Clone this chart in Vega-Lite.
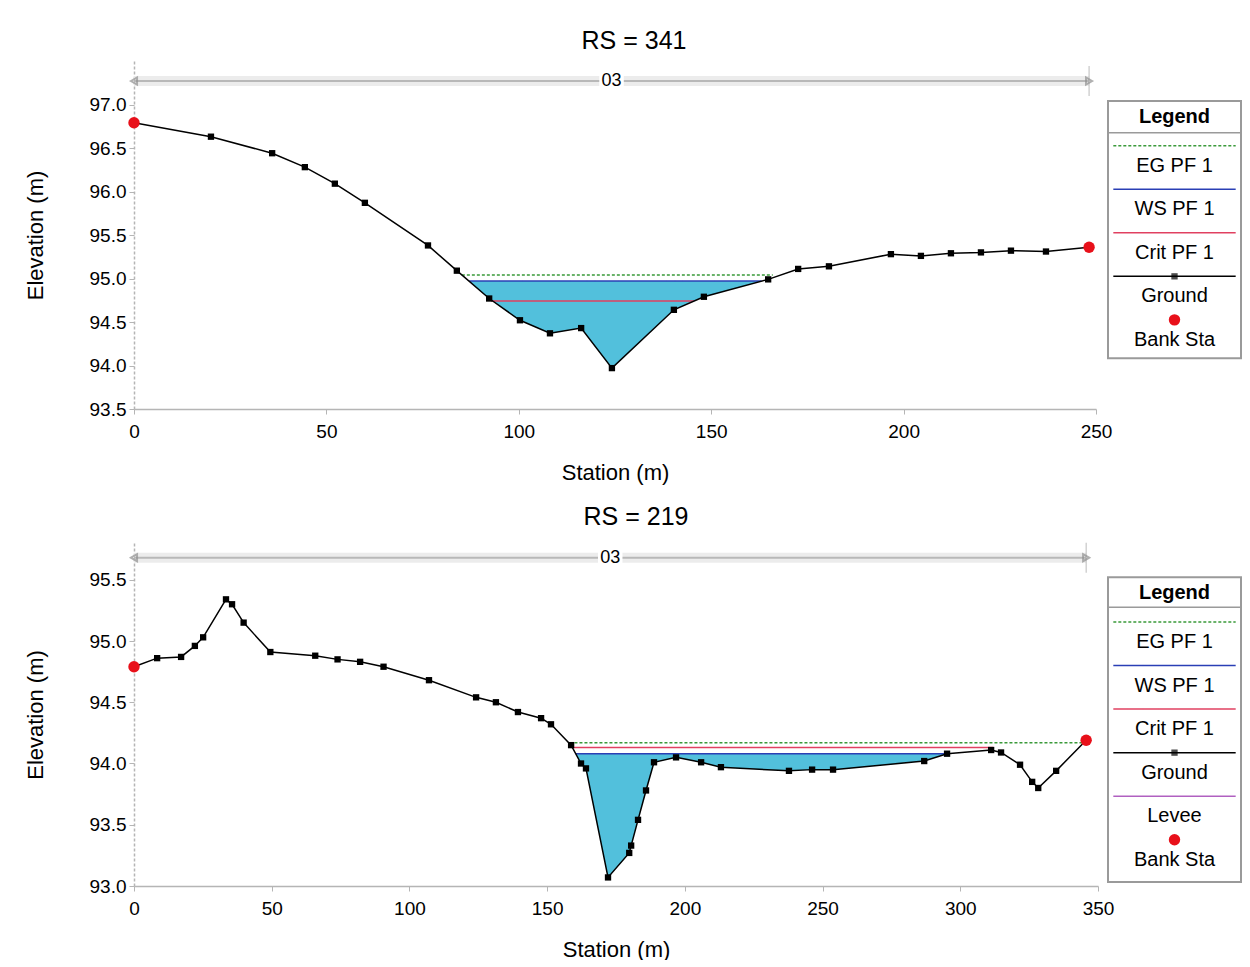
{
  "background": "white",
  "padding": {"left": 24, "top": 29, "right": 6, "bottom": 0},
  "config": {
    "font": "Liberation Sans",
    "view": {"stroke": null},
    "axis": {
      "labelFont": "Liberation Sans",
      "titleFont": "Liberation Sans",
      "labelFontSize": 19,
      "titleFontSize": 22,
      "titleFontWeight": "normal",
      "labelColor": "#000000",
      "titleColor": "#000000",
      "domainColor": "#b5b5b5",
      "tickColor": "#b5b5b5",
      "domainWidth": 1.5,
      "grid": false,
      "tickSize": 5
    },
    "axisX": {"labelPadding": 8, "titlePadding": 21, "labelFlush": false},
    "axisY": {"labelPadding": 3, "titlePadding": 42, "domainDash": [3, 2]},
    "title": {"font": "Liberation Sans", "fontSize": 25, "fontWeight": "normal", "color": "#000000", "frame": "group"},
    "text": {"font": "Liberation Sans"}
  },
  "datasets": {
    "ground341": [
      {"sta": 0, "elev": 96.79}, {"sta": 20.0, "elev": 96.63}, {"sta": 35.9, "elev": 96.44},
      {"sta": 44.4, "elev": 96.28}, {"sta": 52.2, "elev": 96.09}, {"sta": 60.0, "elev": 95.87},
      {"sta": 76.4, "elev": 95.38}, {"sta": 83.9, "elev": 95.09}, {"sta": 92.3, "elev": 94.77},
      {"sta": 100.3, "elev": 94.52}, {"sta": 108.1, "elev": 94.37}, {"sta": 116.2, "elev": 94.43},
      {"sta": 124.2, "elev": 93.97}, {"sta": 140.3, "elev": 94.64}, {"sta": 148.1, "elev": 94.79},
      {"sta": 164.8, "elev": 94.99}, {"sta": 172.6, "elev": 95.11}, {"sta": 180.6, "elev": 95.14},
      {"sta": 196.7, "elev": 95.28}, {"sta": 204.5, "elev": 95.26}, {"sta": 212.3, "elev": 95.29},
      {"sta": 220.1, "elev": 95.30}, {"sta": 227.9, "elev": 95.32}, {"sta": 237.0, "elev": 95.31},
      {"sta": 248.2, "elev": 95.36}
    ],
    "wet341": [
      {"sta": 87.1, "ground": 94.97, "ws": 94.97}, {"sta": 92.3, "ground": 94.77, "ws": 94.97},
      {"sta": 100.3, "ground": 94.52, "ws": 94.97}, {"sta": 108.1, "ground": 94.37, "ws": 94.97},
      {"sta": 116.2, "ground": 94.43, "ws": 94.97}, {"sta": 124.2, "ground": 93.97, "ws": 94.97},
      {"sta": 140.3, "ground": 94.64, "ws": 94.97}, {"sta": 148.1, "ground": 94.79, "ws": 94.97},
      {"sta": 163.1, "ground": 94.97, "ws": 94.97}
    ],
    "level341": [
      {"name": "EG PF 1", "elev": 95.04, "from": 85.2, "to": 166.0},
      {"name": "WS PF 1", "elev": 94.97, "from": 87.1, "to": 163.1},
      {"name": "Crit PF 1", "elev": 94.74, "from": 92.8, "to": 145.5}
    ],
    "bank341": [{"sta": 0, "elev": 96.79}, {"sta": 248.2, "elev": 95.36}],
    "band341": [{"from": 0, "to": 248.2, "mid": 124.1, "n": "03"}],
    "legend341": [
      {"item": "EG PF 1", "k": 0}, {"item": "WS PF 1", "k": 1}, {"item": "Crit PF 1", "k": 2},
      {"item": "Ground", "k": 3}, {"item": "Bank Sta", "k": 4}
    ],
    "ground219": [
      {"sta": 0, "elev": 94.79}, {"sta": 8.4, "elev": 94.86}, {"sta": 17.1, "elev": 94.87},
      {"sta": 22.1, "elev": 94.96}, {"sta": 25.1, "elev": 95.03}, {"sta": 33.4, "elev": 95.34},
      {"sta": 35.6, "elev": 95.30}, {"sta": 39.8, "elev": 95.15}, {"sta": 49.5, "elev": 94.91},
      {"sta": 65.8, "elev": 94.88}, {"sta": 73.9, "elev": 94.85}, {"sta": 82.1, "elev": 94.83},
      {"sta": 90.6, "elev": 94.79}, {"sta": 107.1, "elev": 94.68}, {"sta": 124.2, "elev": 94.54},
      {"sta": 131.4, "elev": 94.50}, {"sta": 139.4, "elev": 94.42}, {"sta": 147.8, "elev": 94.37},
      {"sta": 151.4, "elev": 94.32}, {"sta": 158.7, "elev": 94.15}, {"sta": 162.3, "elev": 94.00},
      {"sta": 164.1, "elev": 93.96}, {"sta": 172.1, "elev": 93.07}, {"sta": 179.8, "elev": 93.27},
      {"sta": 180.5, "elev": 93.33}, {"sta": 183.0, "elev": 93.54}, {"sta": 185.9, "elev": 93.78},
      {"sta": 188.8, "elev": 94.01}, {"sta": 196.8, "elev": 94.05}, {"sta": 205.9, "elev": 94.01},
      {"sta": 213.1, "elev": 93.97}, {"sta": 237.8, "elev": 93.94}, {"sta": 246.2, "elev": 93.95},
      {"sta": 253.8, "elev": 93.95}, {"sta": 286.9, "elev": 94.02}, {"sta": 295.2, "elev": 94.08},
      {"sta": 311.2, "elev": 94.11}, {"sta": 314.8, "elev": 94.09}, {"sta": 321.7, "elev": 93.99},
      {"sta": 326.1, "elev": 93.85}, {"sta": 328.3, "elev": 93.80}, {"sta": 334.8, "elev": 93.94},
      {"sta": 345.7, "elev": 94.19}
    ],
    "wet219": [
      {"sta": 160.4, "ground": 94.08, "ws": 94.08}, {"sta": 162.3, "ground": 94.00, "ws": 94.08},
      {"sta": 164.1, "ground": 93.96, "ws": 94.08}, {"sta": 172.1, "ground": 93.07, "ws": 94.08},
      {"sta": 179.8, "ground": 93.27, "ws": 94.08}, {"sta": 180.5, "ground": 93.33, "ws": 94.08},
      {"sta": 183.0, "ground": 93.54, "ws": 94.08}, {"sta": 185.9, "ground": 93.78, "ws": 94.08},
      {"sta": 188.8, "ground": 94.01, "ws": 94.08}, {"sta": 196.8, "ground": 94.05, "ws": 94.08},
      {"sta": 205.9, "ground": 94.01, "ws": 94.08}, {"sta": 213.1, "ground": 93.97, "ws": 94.08},
      {"sta": 237.8, "ground": 93.94, "ws": 94.08}, {"sta": 246.2, "ground": 93.95, "ws": 94.08},
      {"sta": 253.8, "ground": 93.95, "ws": 94.08}, {"sta": 286.9, "ground": 94.02, "ws": 94.08},
      {"sta": 295.2, "ground": 94.08, "ws": 94.08}
    ],
    "level219": [
      {"name": "EG PF 1", "elev": 94.17, "from": 158.1, "to": 344.8},
      {"name": "Crit PF 1", "elev": 94.13, "from": 158.9, "to": 312.0},
      {"name": "WS PF 1", "elev": 94.08, "from": 160.4, "to": 295.2}
    ],
    "bank219": [{"sta": 0, "elev": 94.79}, {"sta": 345.7, "elev": 94.19}],
    "band219": [{"from": 0, "to": 345.7, "mid": 172.9, "n": "03"}],
    "legend219": [
      {"item": "EG PF 1", "k": 0}, {"item": "WS PF 1", "k": 1}, {"item": "Crit PF 1", "k": 2},
      {"item": "Ground", "k": 3}, {"item": "Levee", "k": 4}, {"item": "Bank Sta", "k": 5}
    ]
  },
  "spacing": 21,
  "vconcat": [
    {
      "bounds": "flush",
      "spacing": 12,
      "hconcat": [
        {
          "width": 962,
          "height": 348,
          "title": {"text": "RS = 341", "offset": 7, "dx": 19},
          "layer": [
            {
              "data": {"name": "wet341"},
              "mark": {"type": "area", "color": "#52C0DC", "opacity": 1},
              "encoding": {
                "x": {"field": "sta", "type": "quantitative", "scale": {"domain": [0, 250], "nice": false},
                      "axis": {"title": "Station (m)", "values": [0, 50, 100, 150, 200, 250], "format": "d"}},
                "y": {"field": "ws", "type": "quantitative", "scale": {"domain": [93.5, 97.5], "nice": false, "zero": false},
                      "axis": {"title": "Elevation (m)", "values": [93.5, 94, 94.5, 95, 95.5, 96, 96.5, 97], "format": ".1f"}},
                "y2": {"field": "ground"}
              }
            },
            {
              "data": {"name": "level341"},
              "mark": {"type": "rule", "strokeWidth": 1.5},
              "encoding": {
                "x": {"field": "from", "type": "quantitative"},
                "x2": {"field": "to"},
                "y": {"field": "elev", "type": "quantitative"},
                "color": {"field": "name", "type": "nominal", "legend": null,
                          "scale": {"domain": ["EG PF 1", "WS PF 1", "Crit PF 1", "Ground", "Levee"],
                                    "range": ["#3a9a3a", "#2a3fb5", "#e04060", "#000000", "#b060c0"]}},
                "strokeDash": {"field": "name", "type": "nominal", "legend": null,
                               "scale": {"domain": ["EG PF 1", "WS PF 1", "Crit PF 1", "Ground", "Levee"],
                                         "range": [[3, 2], [1, 0], [1, 0], [1, 0], [1, 0]]}}
              }
            },
            {
              "data": {"name": "ground341"},
              "mark": {"type": "line", "color": "#000000", "strokeWidth": 1.5,
                       "point": {"shape": "square", "size": 40, "filled": true, "color": "#000000"}},
              "encoding": {
                "x": {"field": "sta", "type": "quantitative"},
                "y": {"field": "elev", "type": "quantitative"}
              }
            },
            {
              "data": {"name": "bank341"},
              "mark": {"type": "point", "shape": "circle", "filled": true, "color": "#e8101a", "size": 130, "opacity": 1},
              "encoding": {
                "x": {"field": "sta", "type": "quantitative"},
                "y": {"field": "elev", "type": "quantitative"}
              }
            },
            {
              "data": {"name": "band341"},
              "mark": {"type": "rule", "color": "#ececec", "strokeWidth": 10},
              "encoding": {"x": {"field": "from", "type": "quantitative"}, "x2": {"field": "to"}, "y": {"datum": 97.27}}
            },
            {
              "data": {"name": "band341"},
              "mark": {"type": "rule", "color": "#b8b8b8", "strokeWidth": 2},
              "encoding": {"x": {"field": "from", "type": "quantitative"}, "x2": {"field": "to"}, "y": {"datum": 97.27}}
            },
            {
              "data": {"name": "band341"},
              "mark": {"type": "tick", "orient": "vertical", "color": "#a0a0a0", "size": 30, "thickness": 1},
              "encoding": {"x": {"field": "to", "type": "quantitative"}, "y": {"datum": 97.27}}
            },
            {
              "data": {"name": "band341"},
              "mark": {"type": "point", "shape": "triangle-left", "size": 50, "filled": false, "color": "#909090"},
              "encoding": {"x": {"field": "from", "type": "quantitative"}, "y": {"datum": 97.27}}
            },
            {
              "data": {"name": "band341"},
              "mark": {"type": "point", "shape": "triangle-right", "size": 50, "filled": false, "color": "#909090"},
              "encoding": {"x": {"field": "to", "type": "quantitative"}, "y": {"datum": 97.27}}
            },
            {
              "data": {"name": "band341"},
              "mark": {"type": "point", "shape": "square", "size": 600, "filled": true, "color": "#ffffff", "opacity": 1},
              "encoding": {"x": {"field": "mid", "type": "quantitative"}, "y": {"datum": 97.27}}
            },
            {
              "data": {"name": "band341"},
              "mark": {"type": "text", "fontSize": 18, "color": "#000000", "baseline": "middle"},
              "encoding": {"x": {"field": "mid", "type": "quantitative"}, "y": {"datum": 97.27}, "text": {"field": "n"}}
            }
          ]
        },
        {
          "width": 133,
          "height": 298,
          "data": {"name": "legend341"},
          "layer": [
            {
              "data": {"values": [{}]},
              "mark": {"type": "rect", "fillOpacity": 0, "stroke": "#9a9a9a", "strokeWidth": 2},
              "encoding": {
                "x": {"datum": 0, "type": "quantitative", "scale": {"domain": [0, 1]}, "axis": null},
                "x2": {"datum": 1},
                "y": {"datum": -1.03, "type": "quantitative", "scale": {"domain": [-1.95, 4.9], "reverse": true, "zero": false, "nice": false}, "axis": null},
                "y2": {"datum": 4.88}
              }
            },
            {
              "data": {"values": [{}]},
              "mark": {"type": "rule", "color": "#9a9a9a", "strokeWidth": 1.5},
              "encoding": {"x": {"datum": 0}, "x2": {"datum": 1}, "y": {"datum": -0.3}}
            },
            {
              "data": {"values": [{}]},
              "mark": {"type": "text", "text": "Legend", "fontSize": 20, "fontWeight": "bold", "color": "#000000", "baseline": "middle"},
              "encoding": {"x": {"datum": 0.5}, "y": {"datum": -0.66}}
            },
            {
              "transform": [{"filter": "datum.item !== 'Bank Sta'"}],
              "mark": {"type": "rule", "strokeWidth": 1.5},
              "encoding": {
                "x": {"datum": 0.04}, "x2": {"datum": 0.96},
                "y": {"field": "k", "type": "quantitative"},
                "color": {"field": "item", "type": "nominal", "legend": null,
                          "scale": {"domain": ["EG PF 1", "WS PF 1", "Crit PF 1", "Ground", "Levee"],
                                    "range": ["#3a9a3a", "#2a3fb5", "#e04060", "#000000", "#b060c0"]}},
                "strokeDash": {"field": "item", "type": "nominal", "legend": null,
                               "scale": {"domain": ["EG PF 1", "WS PF 1", "Crit PF 1", "Ground", "Levee"],
                                         "range": [[3, 2], [1, 0], [1, 0], [1, 0], [1, 0]]}}
              }
            },
            {
              "transform": [{"filter": "datum.item === 'Ground'"}],
              "mark": {"type": "point", "shape": "square", "size": 40, "filled": true, "color": "#000000"},
              "encoding": {"x": {"datum": 0.5}, "y": {"field": "k", "type": "quantitative"}}
            },
            {
              "transform": [{"filter": "datum.item === 'Bank Sta'"}],
              "mark": {"type": "point", "shape": "circle", "size": 130, "filled": true, "color": "#e8101a", "opacity": 1},
              "encoding": {"x": {"datum": 0.5}, "y": {"field": "k", "type": "quantitative"}}
            },
            {
              "mark": {"type": "text", "fontSize": 20, "color": "#000000", "baseline": "middle", "dy": 20},
              "encoding": {"x": {"datum": 0.5}, "y": {"field": "k", "type": "quantitative"}, "text": {"field": "item"}}
            }
          ]
        }
      ]
    },
    {
      "bounds": "flush",
      "spacing": 10,
      "hconcat": [
        {
          "width": 964,
          "height": 343,
          "title": {"text": "RS = 219", "offset": 13, "dx": 20},
          "layer": [
            {
              "data": {"name": "wet219"},
              "mark": {"type": "area", "color": "#52C0DC", "opacity": 1},
              "encoding": {
                "x": {"field": "sta", "type": "quantitative", "scale": {"domain": [0, 350], "nice": false},
                      "axis": {"title": "Station (m)", "values": [0, 50, 100, 150, 200, 250, 300, 350], "format": "d"}},
                "y": {"field": "ws", "type": "quantitative", "scale": {"domain": [93.0, 95.8], "nice": false, "zero": false},
                      "axis": {"title": "Elevation (m)", "values": [93, 93.5, 94, 94.5, 95, 95.5], "format": ".1f"}},
                "y2": {"field": "ground"}
              }
            },
            {
              "data": {"name": "level219"},
              "mark": {"type": "rule", "strokeWidth": 1.5},
              "encoding": {
                "x": {"field": "from", "type": "quantitative"},
                "x2": {"field": "to"},
                "y": {"field": "elev", "type": "quantitative"},
                "color": {"field": "name", "type": "nominal", "legend": null,
                          "scale": {"domain": ["EG PF 1", "WS PF 1", "Crit PF 1", "Ground", "Levee"],
                                    "range": ["#3a9a3a", "#2a3fb5", "#e04060", "#000000", "#b060c0"]}},
                "strokeDash": {"field": "name", "type": "nominal", "legend": null,
                               "scale": {"domain": ["EG PF 1", "WS PF 1", "Crit PF 1", "Ground", "Levee"],
                                         "range": [[3, 2], [1, 0], [1, 0], [1, 0], [1, 0]]}}
              }
            },
            {
              "data": {"name": "ground219"},
              "mark": {"type": "line", "color": "#000000", "strokeWidth": 1.5,
                       "point": {"shape": "square", "size": 40, "filled": true, "color": "#000000"}},
              "encoding": {
                "x": {"field": "sta", "type": "quantitative"},
                "y": {"field": "elev", "type": "quantitative"}
              }
            },
            {
              "data": {"name": "bank219"},
              "mark": {"type": "point", "shape": "circle", "filled": true, "color": "#e8101a", "size": 130, "opacity": 1},
              "encoding": {
                "x": {"field": "sta", "type": "quantitative"},
                "y": {"field": "elev", "type": "quantitative"}
              }
            },
            {
              "data": {"name": "band219"},
              "mark": {"type": "rule", "color": "#ececec", "strokeWidth": 10},
              "encoding": {"x": {"field": "from", "type": "quantitative"}, "x2": {"field": "to"}, "y": {"datum": 95.68}}
            },
            {
              "data": {"name": "band219"},
              "mark": {"type": "rule", "color": "#b8b8b8", "strokeWidth": 2},
              "encoding": {"x": {"field": "from", "type": "quantitative"}, "x2": {"field": "to"}, "y": {"datum": 95.68}}
            },
            {
              "data": {"name": "band219"},
              "mark": {"type": "tick", "orient": "vertical", "color": "#a0a0a0", "size": 30, "thickness": 1},
              "encoding": {"x": {"field": "to", "type": "quantitative"}, "y": {"datum": 95.68}}
            },
            {
              "data": {"name": "band219"},
              "mark": {"type": "point", "shape": "triangle-left", "size": 50, "filled": false, "color": "#909090"},
              "encoding": {"x": {"field": "from", "type": "quantitative"}, "y": {"datum": 95.68}}
            },
            {
              "data": {"name": "band219"},
              "mark": {"type": "point", "shape": "triangle-right", "size": 50, "filled": false, "color": "#909090"},
              "encoding": {"x": {"field": "to", "type": "quantitative"}, "y": {"datum": 95.68}}
            },
            {
              "data": {"name": "band219"},
              "mark": {"type": "point", "shape": "square", "size": 600, "filled": true, "color": "#ffffff", "opacity": 1},
              "encoding": {"x": {"field": "mid", "type": "quantitative"}, "y": {"datum": 95.68}}
            },
            {
              "data": {"name": "band219"},
              "mark": {"type": "text", "fontSize": 18, "color": "#000000", "baseline": "middle"},
              "encoding": {"x": {"field": "mid", "type": "quantitative"}, "y": {"datum": 95.68}, "text": {"field": "n"}}
            }
          ]
        },
        {
          "width": 133,
          "height": 343,
          "data": {"name": "legend219"},
          "layer": [
            {
              "data": {"values": [{}]},
              "mark": {"type": "rect", "fillOpacity": 0, "stroke": "#9a9a9a", "strokeWidth": 2},
              "encoding": {
                "x": {"datum": 0, "type": "quantitative", "scale": {"domain": [0, 1]}, "axis": null},
                "x2": {"datum": 1},
                "y": {"datum": -1.03, "type": "quantitative", "scale": {"domain": [-1.814, 6.062], "reverse": true, "zero": false, "nice": false}, "axis": null},
                "y2": {"datum": 5.97}
              }
            },
            {
              "data": {"values": [{}]},
              "mark": {"type": "rule", "color": "#9a9a9a", "strokeWidth": 1.5},
              "encoding": {"x": {"datum": 0}, "x2": {"datum": 1}, "y": {"datum": -0.34}}
            },
            {
              "data": {"values": [{}]},
              "mark": {"type": "text", "text": "Legend", "fontSize": 20, "fontWeight": "bold", "color": "#000000", "baseline": "middle"},
              "encoding": {"x": {"datum": 0.5}, "y": {"datum": -0.67}}
            },
            {
              "transform": [{"filter": "datum.item !== 'Bank Sta'"}],
              "mark": {"type": "rule", "strokeWidth": 1.5},
              "encoding": {
                "x": {"datum": 0.04}, "x2": {"datum": 0.96},
                "y": {"field": "k", "type": "quantitative"},
                "color": {"field": "item", "type": "nominal", "legend": null,
                          "scale": {"domain": ["EG PF 1", "WS PF 1", "Crit PF 1", "Ground", "Levee"],
                                    "range": ["#3a9a3a", "#2a3fb5", "#e04060", "#000000", "#b060c0"]}},
                "strokeDash": {"field": "item", "type": "nominal", "legend": null,
                               "scale": {"domain": ["EG PF 1", "WS PF 1", "Crit PF 1", "Ground", "Levee"],
                                         "range": [[3, 2], [1, 0], [1, 0], [1, 0], [1, 0]]}}
              }
            },
            {
              "transform": [{"filter": "datum.item === 'Ground'"}],
              "mark": {"type": "point", "shape": "square", "size": 40, "filled": true, "color": "#000000"},
              "encoding": {"x": {"datum": 0.5}, "y": {"field": "k", "type": "quantitative"}}
            },
            {
              "transform": [{"filter": "datum.item === 'Bank Sta'"}],
              "mark": {"type": "point", "shape": "circle", "size": 130, "filled": true, "color": "#e8101a", "opacity": 1},
              "encoding": {"x": {"datum": 0.5}, "y": {"field": "k", "type": "quantitative"}}
            },
            {
              "mark": {"type": "text", "fontSize": 20, "color": "#000000", "baseline": "middle", "dy": 20},
              "encoding": {"x": {"datum": 0.5}, "y": {"field": "k", "type": "quantitative"}, "text": {"field": "item"}}
            }
          ]
        }
      ]
    }
  ]
}
